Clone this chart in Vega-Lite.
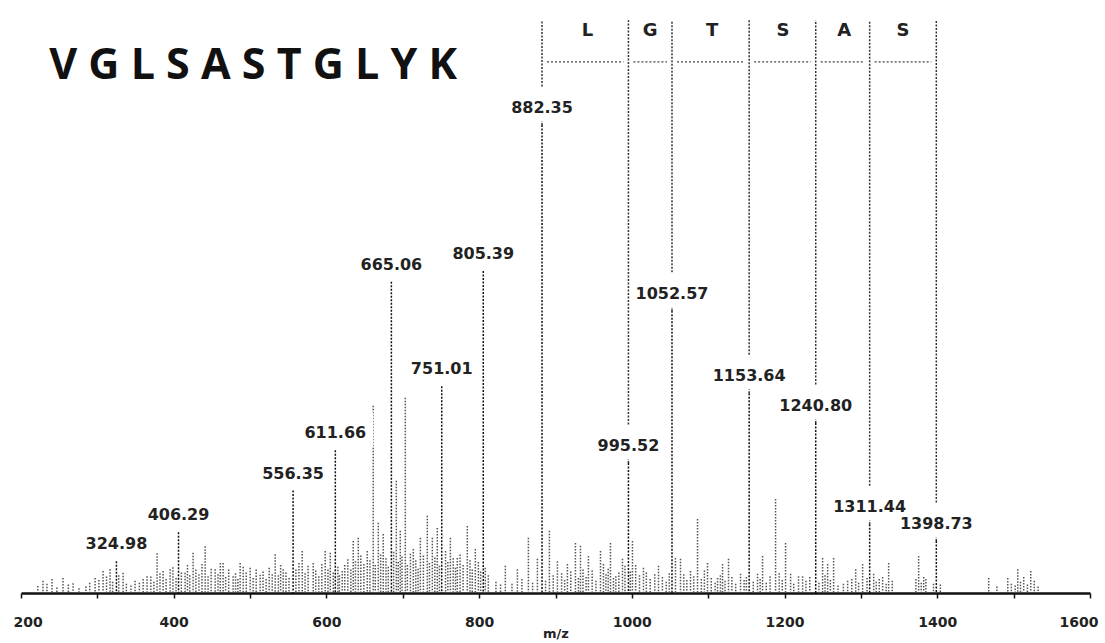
{
  "$schema": "https://vega.github.io/schema/vega-lite/v6.json",
  "width": 1069,
  "height": 593,
  "autosize": {"type": "none"},
  "padding": {"left": 21, "top": 0, "right": 15, "bottom": 50},
  "background": "white",
  "config": {"view": {"stroke": null}},
  "datasets": {
    "peaks": [
      {"mz": 324.98, "intensity": 6.8, "label": "324.98", "ladder": false},
      {"mz": 406.29, "intensity": 13.0, "label": "406.29", "ladder": false},
      {"mz": 556.35, "intensity": 21.9, "label": "556.35", "ladder": false},
      {"mz": 611.66, "intensity": 30.5, "label": "611.66", "ladder": false},
      {"mz": 685.06, "intensity": 66.5, "label": "665.06", "ladder": false},
      {"mz": 751.01, "intensity": 44.2, "label": "751.01", "ladder": false},
      {"mz": 805.39, "intensity": 68.8, "label": "805.39", "ladder": false},
      {"mz": 882.35, "intensity": 100, "label": "882.35", "ladder": true},
      {"mz": 995.52, "intensity": 27.8, "label": "995.52", "ladder": true},
      {"mz": 1052.57, "intensity": 60.3, "label": "1052.57", "ladder": true},
      {"mz": 1153.64, "intensity": 42.7, "label": "1153.64", "ladder": true},
      {"mz": 1240.80, "intensity": 36.3, "label": "1240.80", "ladder": true},
      {"mz": 1311.44, "intensity": 14.7, "label": "1311.44", "ladder": true},
      {"mz": 1398.73, "intensity": 11.1, "label": "1398.73", "ladder": true}
    ],
    "residues": [
      {"from": 882.35, "to": 995.52, "center": 942, "aa": "L"},
      {"from": 995.52, "to": 1052.57, "center": 1024, "aa": "G"},
      {"from": 1052.57, "to": 1153.64, "center": 1105, "aa": "T"},
      {"from": 1153.64, "to": 1240.80, "center": 1198, "aa": "S"},
      {"from": 1240.80, "to": 1311.44, "center": 1278, "aa": "A"},
      {"from": 1311.44, "to": 1398.73, "center": 1355, "aa": "S"}
    ],
    "noise": [
      {"mz": 222, "intensity": 1.5}, {"mz": 228.8, "intensity": 2.6}, {"mz": 234, "intensity": 2.0},
      {"mz": 240.6, "intensity": 3.0}, {"mz": 247, "intensity": 1.2}, {"mz": 255, "intensity": 3.2},
      {"mz": 262, "intensity": 1.8}, {"mz": 268.2, "intensity": 2.1}, {"mz": 276, "intensity": 1.0},
      {"mz": 285, "intensity": 1.4}, {"mz": 290, "intensity": 2.2}, {"mz": 297, "intensity": 3.2},
      {"mz": 302, "intensity": 2.8}, {"mz": 307.5, "intensity": 4.7}, {"mz": 312, "intensity": 3.5},
      {"mz": 316.6, "intensity": 5.1}, {"mz": 320, "intensity": 2.4}, {"mz": 328, "intensity": 3.8},
      {"mz": 333.7, "intensity": 4.3}, {"mz": 338, "intensity": 2.0}, {"mz": 344, "intensity": 1.6},
      {"mz": 349.4, "intensity": 2.6}, {"mz": 355, "intensity": 2.2}, {"mz": 360, "intensity": 3.0},
      {"mz": 365.1, "intensity": 3.6}, {"mz": 370, "intensity": 3.5}, {"mz": 374, "intensity": 2.4},
      {"mz": 378.2, "intensity": 8.5}, {"mz": 382, "intensity": 4.2}, {"mz": 386.1, "intensity": 4.7},
      {"mz": 390, "intensity": 3.0}, {"mz": 395.3, "intensity": 5.1}, {"mz": 399, "intensity": 5.5},
      {"mz": 403, "intensity": 3.2}, {"mz": 410, "intensity": 4.4}, {"mz": 414.9, "intensity": 4.3},
      {"mz": 418, "intensity": 6.0}, {"mz": 421, "intensity": 3.8}, {"mz": 425.4, "intensity": 8.6},
      {"mz": 429, "intensity": 5.0}, {"mz": 433, "intensity": 4.0}, {"mz": 437, "intensity": 6.2},
      {"mz": 441.2, "intensity": 10.0}, {"mz": 445, "intensity": 3.6}, {"mz": 449, "intensity": 5.2},
      {"mz": 454.3, "intensity": 5.1}, {"mz": 458, "intensity": 4.0}, {"mz": 461, "intensity": 6.4},
      {"mz": 464.7, "intensity": 6.4}, {"mz": 468, "intensity": 3.4}, {"mz": 472, "intensity": 5.0},
      {"mz": 477.8, "intensity": 3.6}, {"mz": 481, "intensity": 4.2}, {"mz": 484, "intensity": 3.0},
      {"mz": 487, "intensity": 6.4}, {"mz": 491, "intensity": 5.6}, {"mz": 495, "intensity": 4.4},
      {"mz": 500.1, "intensity": 5.4}, {"mz": 504, "intensity": 3.2}, {"mz": 508, "intensity": 5.0},
      {"mz": 513.2, "intensity": 3.9}, {"mz": 517, "intensity": 4.6}, {"mz": 521, "intensity": 3.0},
      {"mz": 525, "intensity": 5.4}, {"mz": 529, "intensity": 4.0}, {"mz": 532.9, "intensity": 8.3},
      {"mz": 537, "intensity": 3.8}, {"mz": 540, "intensity": 6.0}, {"mz": 543.4, "intensity": 5.1},
      {"mz": 547, "intensity": 4.4}, {"mz": 551, "intensity": 3.2}, {"mz": 560, "intensity": 5.0},
      {"mz": 564, "intensity": 6.4}, {"mz": 568.3, "intensity": 9.0}, {"mz": 572, "intensity": 4.2},
      {"mz": 576, "intensity": 5.8}, {"mz": 582.7, "intensity": 6.4}, {"mz": 586, "intensity": 4.8},
      {"mz": 590, "intensity": 3.6}, {"mz": 594, "intensity": 6.2}, {"mz": 598.4, "intensity": 9.0},
      {"mz": 602, "intensity": 5.0}, {"mz": 605, "intensity": 8.6}, {"mz": 609, "intensity": 4.4},
      {"mz": 615, "intensity": 5.6}, {"mz": 617, "intensity": 3.8}, {"mz": 620.7, "intensity": 4.7},
      {"mz": 624, "intensity": 6.0}, {"mz": 628, "intensity": 7.2}, {"mz": 632, "intensity": 5.0},
      {"mz": 635.1, "intensity": 11.1}, {"mz": 638, "intensity": 6.8}, {"mz": 641.7, "intensity": 11.8},
      {"mz": 645, "intensity": 8.0}, {"mz": 649, "intensity": 6.2}, {"mz": 653.5, "intensity": 9.0},
      {"mz": 657, "intensity": 7.0}, {"mz": 661.3, "intensity": 40.0}, {"mz": 664, "intensity": 6.0},
      {"mz": 667.9, "intensity": 15.0}, {"mz": 671, "intensity": 8.2}, {"mz": 674.4, "intensity": 12.6},
      {"mz": 678, "intensity": 7.4}, {"mz": 681, "intensity": 5.6}, {"mz": 688, "intensity": 8.8},
      {"mz": 691.5, "intensity": 24.0}, {"mz": 694, "intensity": 6.6}, {"mz": 696.7, "intensity": 13.3},
      {"mz": 699, "intensity": 7.8}, {"mz": 703.3, "intensity": 41.7}, {"mz": 706, "intensity": 6.0},
      {"mz": 710, "intensity": 8.4}, {"mz": 713.8, "intensity": 9.4}, {"mz": 717, "intensity": 7.0},
      {"mz": 720, "intensity": 5.2}, {"mz": 723, "intensity": 11.8}, {"mz": 727, "intensity": 8.0},
      {"mz": 732.1, "intensity": 16.5}, {"mz": 735, "intensity": 6.4}, {"mz": 738.7, "intensity": 11.8},
      {"mz": 742, "intensity": 7.6}, {"mz": 745.2, "intensity": 13.9}, {"mz": 748, "intensity": 5.8},
      {"mz": 756, "intensity": 9.0}, {"mz": 759, "intensity": 6.6}, {"mz": 762.3, "intensity": 11.8},
      {"mz": 766, "intensity": 7.4}, {"mz": 769, "intensity": 5.4}, {"mz": 771.4, "intensity": 7.5},
      {"mz": 775, "intensity": 8.2}, {"mz": 779, "intensity": 6.0}, {"mz": 784.5, "intensity": 14.3},
      {"mz": 788, "intensity": 7.0}, {"mz": 791, "intensity": 5.0}, {"mz": 795, "intensity": 9.4},
      {"mz": 799, "intensity": 6.6}, {"mz": 802, "intensity": 4.6}, {"mz": 808, "intensity": 5.4},
      {"mz": 812, "intensity": 3.8}, {"mz": 822, "intensity": 2.4}, {"mz": 828, "intensity": 1.8},
      {"mz": 834.3, "intensity": 5.8}, {"mz": 843, "intensity": 2.0}, {"mz": 850.1, "intensity": 5.1},
      {"mz": 856, "intensity": 3.0}, {"mz": 864.5, "intensity": 11.8}, {"mz": 870, "intensity": 2.2},
      {"mz": 876.3, "intensity": 7.3}, {"mz": 887, "intensity": 2.6}, {"mz": 892, "intensity": 13.3},
      {"mz": 897, "intensity": 3.8}, {"mz": 902.5, "intensity": 6.8}, {"mz": 908, "intensity": 4.2},
      {"mz": 912, "intensity": 2.8}, {"mz": 915.6, "intensity": 6.2}, {"mz": 920, "intensity": 4.6},
      {"mz": 926.1, "intensity": 10.7}, {"mz": 930, "intensity": 3.2}, {"mz": 932.7, "intensity": 10.1},
      {"mz": 936, "intensity": 5.0}, {"mz": 940, "intensity": 3.4}, {"mz": 943.1, "intensity": 7.9},
      {"mz": 948, "intensity": 4.8}, {"mz": 953, "intensity": 2.6}, {"mz": 958.9, "intensity": 9.0},
      {"mz": 962.8, "intensity": 6.2}, {"mz": 966, "intensity": 4.0}, {"mz": 969, "intensity": 5.2},
      {"mz": 972, "intensity": 10.7}, {"mz": 975.9, "intensity": 3.2}, {"mz": 979, "intensity": 3.6},
      {"mz": 983, "intensity": 4.4}, {"mz": 987.7, "intensity": 7.3}, {"mz": 991, "intensity": 5.8},
      {"mz": 998, "intensity": 4.6}, {"mz": 1000.8, "intensity": 11.1}, {"mz": 1005, "intensity": 6.0},
      {"mz": 1010, "intensity": 3.8}, {"mz": 1015.2, "intensity": 5.4}, {"mz": 1019, "intensity": 4.4},
      {"mz": 1024, "intensity": 3.0}, {"mz": 1030, "intensity": 4.0}, {"mz": 1034.9, "intensity": 5.8},
      {"mz": 1040, "intensity": 3.4}, {"mz": 1045, "intensity": 2.4}, {"mz": 1049, "intensity": 4.2},
      {"mz": 1057.1, "intensity": 7.5}, {"mz": 1063.7, "intensity": 7.3}, {"mz": 1068, "intensity": 4.0},
      {"mz": 1072, "intensity": 2.8}, {"mz": 1076.8, "intensity": 4.7}, {"mz": 1081, "intensity": 3.6},
      {"mz": 1086, "intensity": 15.8}, {"mz": 1091, "intensity": 3.0}, {"mz": 1095, "intensity": 4.8},
      {"mz": 1099.1, "intensity": 6.4}, {"mz": 1104, "intensity": 3.2}, {"mz": 1109, "intensity": 2.2},
      {"mz": 1112.2, "intensity": 3.2}, {"mz": 1116, "intensity": 3.8}, {"mz": 1118.8, "intensity": 6.2},
      {"mz": 1122, "intensity": 2.6}, {"mz": 1126.6, "intensity": 7.3}, {"mz": 1131, "intensity": 3.4},
      {"mz": 1136, "intensity": 2.0}, {"mz": 1142.3, "intensity": 4.1}, {"mz": 1147, "intensity": 2.8},
      {"mz": 1150, "intensity": 3.4}, {"mz": 1159, "intensity": 2.4}, {"mz": 1164.6, "intensity": 4.1},
      {"mz": 1168, "intensity": 3.0}, {"mz": 1171.2, "intensity": 7.9}, {"mz": 1176, "intensity": 2.2},
      {"mz": 1181, "intensity": 3.6}, {"mz": 1188.2, "intensity": 20.1}, {"mz": 1193, "intensity": 4.2},
      {"mz": 1197, "intensity": 2.8}, {"mz": 1201.3, "intensity": 10.7}, {"mz": 1207.9, "intensity": 4.1},
      {"mz": 1212, "intensity": 2.0}, {"mz": 1218.3, "intensity": 3.6}, {"mz": 1223.6, "intensity": 3.6},
      {"mz": 1228, "intensity": 2.6}, {"mz": 1233, "intensity": 3.4}, {"mz": 1245, "intensity": 2.2},
      {"mz": 1249.8, "intensity": 7.5}, {"mz": 1253, "intensity": 3.8}, {"mz": 1256.4, "intensity": 6.2},
      {"mz": 1260, "intensity": 2.8}, {"mz": 1264.2, "intensity": 7.5}, {"mz": 1270, "intensity": 1.6},
      {"mz": 1277, "intensity": 2.0}, {"mz": 1282.6, "intensity": 2.6}, {"mz": 1288, "intensity": 3.0},
      {"mz": 1293.1, "intensity": 5.1}, {"mz": 1297, "intensity": 2.2}, {"mz": 1302.2, "intensity": 6.2},
      {"mz": 1308, "intensity": 3.2}, {"mz": 1316.7, "intensity": 4.1}, {"mz": 1320, "intensity": 2.4},
      {"mz": 1324, "intensity": 3.0}, {"mz": 1328.4, "intensity": 3.4}, {"mz": 1333, "intensity": 2.0},
      {"mz": 1336.3, "intensity": 6.4}, {"mz": 1341, "intensity": 2.6}, {"mz": 1372, "intensity": 3.0},
      {"mz": 1375.6, "intensity": 7.9}, {"mz": 1379, "intensity": 2.2}, {"mz": 1382.2, "intensity": 3.4},
      {"mz": 1385, "intensity": 3.0}, {"mz": 1395, "intensity": 2.0}, {"mz": 1404, "intensity": 1.8},
      {"mz": 1467.3, "intensity": 3.2}, {"mz": 1478, "intensity": 1.4}, {"mz": 1492.3, "intensity": 3.2},
      {"mz": 1497, "intensity": 2.0}, {"mz": 1502, "intensity": 1.6}, {"mz": 1505.4, "intensity": 5.1},
      {"mz": 1509, "intensity": 2.4}, {"mz": 1513.2, "intensity": 3.4}, {"mz": 1518, "intensity": 1.8},
      {"mz": 1522.4, "intensity": 4.7}, {"mz": 1527, "intensity": 2.6}, {"mz": 1532, "intensity": 1.4}
    ]
  },
  "layer": [
    {
      "data": {"name": "noise"},
      "mark": {"type": "rule", "color": "#555555", "strokeWidth": 1.5, "strokeDash": [1.5, 1.5]},
      "encoding": {
        "x": {"field": "mz", "type": "quantitative", "scale": {"domain": [200, 1600], "nice": false, "zero": false},
          "axis": {
            "values": [200, 250, 300, 350, 400, 450, 500, 550, 600, 650, 700, 750, 800, 850, 900, 950, 1000, 1050, 1100, 1150, 1200, 1250, 1300, 1350, 1400, 1450, 1500, 1550, 1600],
            "format": "d",
            "labelExpr": "datum.value % 200 === 0 ? datum.label : ''",
            "labelOverlap": false,
            "labelFlush": true,
            "labelFlushOffset": 8,
            "grid": false,
            "domainColor": "#111111",
            "domainWidth": 2.5,
            "tickColor": "#111111",
            "tickSize": 5,
            "tickWidth": 1.5,
            "labelFont": "DejaVu Sans",
            "labelFontSize": 14,
            "labelFontWeight": "bold",
            "labelColor": "#222222",
            "labelPadding": 17,
            "title": "m/z",
            "titleFont": "DejaVu Sans",
            "titleFontSize": 13,
            "titleFontWeight": "bold",
            "titleColor": "#222222",
            "titleBaseline": "middle",
            "titleY": 40
          }},
        "y": {"field": "intensity", "type": "quantitative", "scale": {"domain": [0, 126.7], "nice": false}, "axis": null},
        "y2": {"datum": 0}
      }
    },
    {
      "data": {"name": "peaks"},
      "mark": {"type": "rule", "color": "#111111", "strokeWidth": 1.5, "strokeDash": [2, 1.5]},
      "encoding": {
        "x": {"field": "mz", "type": "quantitative", "scale": {"domain": [200, 1600], "nice": false, "zero": false}},
        "y": {"field": "intensity", "type": "quantitative", "scale": {"domain": [0, 126.7], "nice": false}, "axis": null},
        "y2": {"datum": 0}
      }
    },
    {
      "data": {"name": "peaks"},
      "transform": [{"filter": {"field": "ladder", "equal": true}}],
      "mark": {"type": "rule", "color": "#333333", "strokeWidth": 1.5, "strokeDash": [2, 1.5]},
      "encoding": {
        "x": {"field": "mz", "type": "quantitative", "scale": {"domain": [200, 1600], "nice": false, "zero": false}},
        "y": {"field": "intensity", "type": "quantitative", "scale": {"domain": [0, 126.7], "nice": false}, "axis": null},
        "y2": {"datum": 122.4}
      }
    },
    {
      "data": {"name": "peaks"},
      "mark": {"type": "point", "shape": "M-1,-1L1,-1L1,-0.1L-1,-0.1Z", "filled": true, "fill": "white", "strokeWidth": 0, "opacity": 1, "size": 5776},
      "encoding": {
        "x": {"field": "mz", "type": "quantitative", "scale": {"domain": [200, 1600], "nice": false, "zero": false}},
        "y": {"field": "intensity", "type": "quantitative", "scale": {"domain": [0, 126.7], "nice": false}, "axis": null}
      }
    },
    {
      "data": {"name": "peaks"},
      "mark": {"type": "text", "font": "DejaVu Sans", "fontSize": 16, "fontWeight": "bold", "color": "#222222", "align": "center", "baseline": "middle", "dy": -17},
      "encoding": {
        "x": {"field": "mz", "type": "quantitative", "scale": {"domain": [200, 1600], "nice": false, "zero": false}},
        "y": {"field": "intensity", "type": "quantitative", "scale": {"domain": [0, 126.7], "nice": false}, "axis": null},
        "text": {"field": "label"}
      }
    },
    {
      "data": {"name": "residues"},
      "mark": {"type": "rule", "color": "#444444", "strokeWidth": 1.2, "strokeDash": [2, 2], "xOffset": 5, "x2Offset": -5},
      "encoding": {
        "x": {"field": "from", "type": "quantitative", "scale": {"domain": [200, 1600], "nice": false, "zero": false}},
        "x2": {"field": "to"},
        "y": {"datum": 113.5, "type": "quantitative", "scale": {"domain": [0, 126.7], "nice": false}, "axis": null}
      }
    },
    {
      "data": {"name": "residues"},
      "mark": {"type": "text", "font": "DejaVu Sans", "fontSize": 18, "fontWeight": "bold", "color": "#222222", "align": "center", "baseline": "middle"},
      "encoding": {
        "x": {"field": "center", "type": "quantitative", "scale": {"domain": [200, 1600], "nice": false, "zero": false}},
        "y": {"datum": 120.1, "type": "quantitative", "scale": {"domain": [0, 126.7], "nice": false}, "axis": null},
        "text": {"field": "aa"}
      }
    },
    {
      "data": {"values": [{"peptide": "V G L S A S T G L Y K"}]},
      "mark": {"type": "text", "font": "Open Sans", "fontSize": 43, "fontWeight": "bold", "color": "#111111", "align": "center", "baseline": "middle"},
      "encoding": {
        "x": {"datum": 504, "type": "quantitative", "scale": {"domain": [200, 1600], "nice": false, "zero": false}},
        "y": {"datum": 112.6, "type": "quantitative", "scale": {"domain": [0, 126.7], "nice": false}, "axis": null},
        "text": {"field": "peptide"}
      }
    }
  ]
}
